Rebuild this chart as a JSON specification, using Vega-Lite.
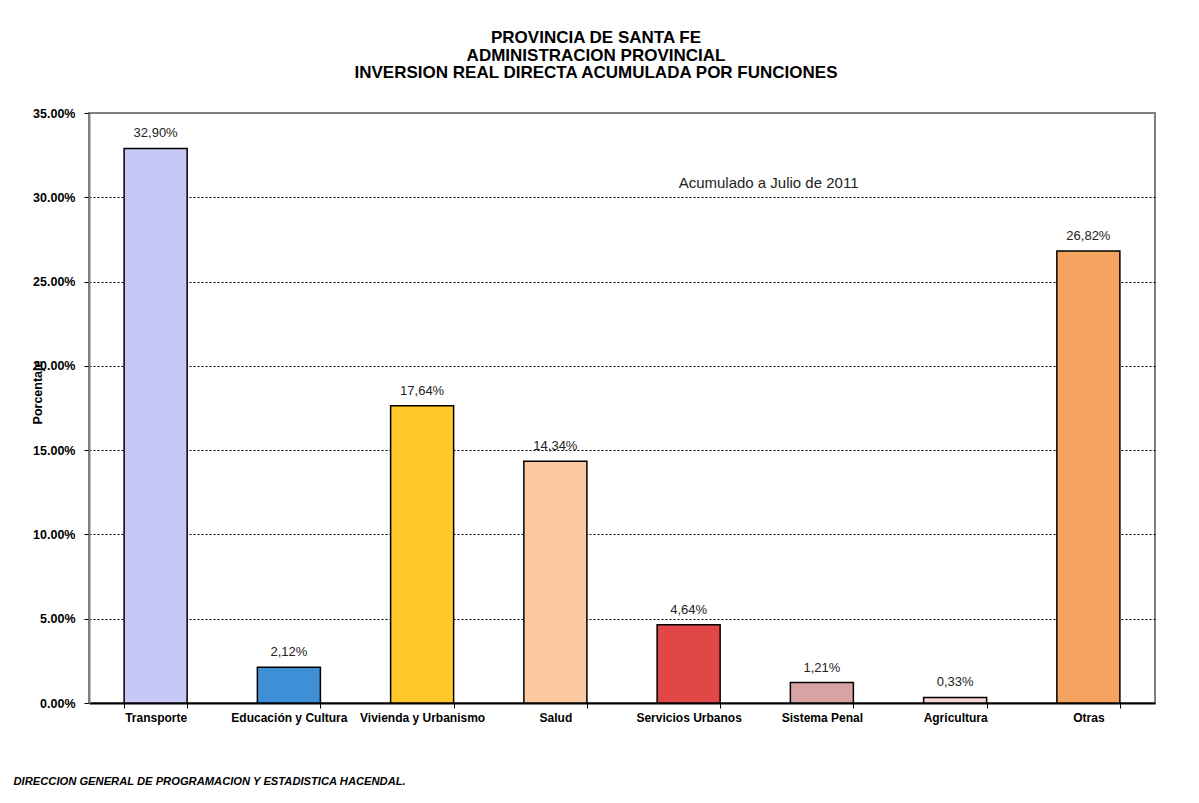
{
  "$schema": "https://vega.github.io/schema/vega-lite/v6.json",
  "autosize": "none",
  "width": 1066,
  "height": 590,
  "padding": {"left": 89, "top": 113, "right": 44, "bottom": 100},
  "background": "white",
  "config": {
    "font": "Liberation Sans",
    "view": {"stroke": "#808080", "strokeWidth": 2}
  },
  "title": {
    "text": ["PROVINCIA DE SANTA FE", "ADMINISTRACION PROVINCIAL", "INVERSION REAL DIRECTA ACUMULADA POR FUNCIONES"],
    "fontSize": 17,
    "fontWeight": "bold",
    "color": "black",
    "lineHeight": 17.5,
    "anchor": "middle",
    "dx": -26,
    "offset": 25
  },
  "datasets": {
    "bars": [
      {"cat": "Transporte", "val": 0.3290, "label": "32,90%"},
      {"cat": "Educación y Cultura", "val": 0.0212, "label": "2,12%"},
      {"cat": "Vivienda y Urbanismo", "val": 0.1764, "label": "17,64%"},
      {"cat": "Salud", "val": 0.1434, "label": "14,34%"},
      {"cat": "Servicios Urbanos", "val": 0.0464, "label": "4,64%"},
      {"cat": "Sistema Penal", "val": 0.0121, "label": "1,21%"},
      {"cat": "Agricultura", "val": 0.0033, "label": "0,33%"},
      {"cat": "Otras", "val": 0.2682, "label": "26,82%"}
    ],
    "notes": [
      {"cat": "Servicios Urbanos", "val": 0.3085, "note": "Acumulado a Julio de 2011"}
    ]
  },
  "layer": [
    {
      "data": {"name": "bars"},
      "mark": {"type": "bar", "stroke": "black", "strokeWidth": 1.5},
      "encoding": {
        "x": {
          "field": "cat", "type": "nominal", "sort": null,
          "scale": {"paddingInner": 0.527, "paddingOuter": 0.2635},
          "axis": {
            "labelAngle": 0, "labelFontSize": 12, "labelFontWeight": "bold", "labelColor": "black",
            "labelPadding": 4, "domainColor": "black", "domainWidth": 2, "tickColor": "black",
            "tickSize": 5, "tickBand": "extent", "grid": false,
            "title": "DIRECCION GENERAL DE PROGRAMACION Y ESTADISTICA HACENDAL.",
            "titleFontStyle": "italic", "titleFontWeight": "bold", "titleFontSize": 11.2, "titleColor": "black",
            "titleX": -76, "titleY": 78, "titleAlign": "left", "titleBaseline": "middle", "titleAnchor": "start"
          }
        },
        "y": {
          "field": "val", "type": "quantitative",
          "scale": {"domain": [0, 0.35], "nice": false},
          "axis": {
            "values": [0, 0.05, 0.1, 0.15, 0.2, 0.25, 0.3, 0.35],
            "format": ".2%", "labelFontSize": 12.5, "labelFontWeight": "bold", "labelColor": "black",
            "labelPadding": 9, "tickSize": 5, "tickColor": "black",
            "domainColor": "#808080", "domainWidth": 2,
            "grid": true, "gridColor": "black", "gridDash": [2, 2], "gridWidth": 1,
            "gridOpacity": {"condition": {"test": "datum.value < 0.001 || datum.value > 0.349", "value": 0}, "value": 1},
            "title": "Porcentaje", "titleFontSize": 12.5, "titleFontWeight": "bold", "titleColor": "black",
            "titleX": -52, "titleY": 279, "titleAngle": -90, "titleBaseline": "middle", "titleAlign": "center"
          }
        },
        "fill": {
          "field": "cat", "type": "nominal", "legend": null,
          "scale": {
            "domain": ["Transporte", "Educación y Cultura", "Vivienda y Urbanismo", "Salud", "Servicios Urbanos", "Sistema Penal", "Agricultura", "Otras"],
            "range": ["#c6c8f6", "#3f8fd6", "#ffc72a", "#fcc9a0", "#e04848", "#d9a3a3", "#f4d4d4", "#f4a460"]
          }
        }
      }
    },
    {
      "data": {"name": "bars"},
      "mark": {"type": "text", "dy": -15, "fontSize": 13, "color": "#222222", "baseline": "middle"},
      "encoding": {
        "x": {"field": "cat", "type": "nominal", "sort": null},
        "y": {"field": "val", "type": "quantitative"},
        "text": {"field": "label"}
      }
    },
    {
      "data": {"name": "notes"},
      "mark": {"type": "text", "align": "left", "dx": -10, "fontSize": 15, "color": "#222222", "baseline": "middle"},
      "encoding": {
        "x": {"field": "cat", "type": "nominal", "sort": null},
        "y": {"field": "val", "type": "quantitative"},
        "text": {"field": "note"}
      }
    }
  ]
}
